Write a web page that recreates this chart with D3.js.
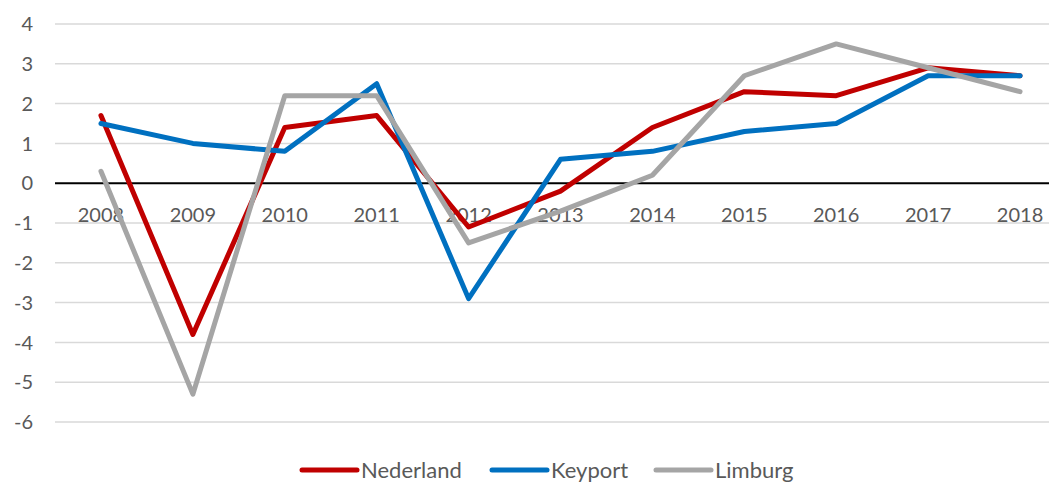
<!DOCTYPE html>
<html>
<head>
<meta charset="utf-8">
<script src="https://cdn.jsdelivr.net/npm/d3@7"></script>
<style>
  body { margin: 0; background: #fff; }
  text { font-family: Lato, "Open Sans", sans-serif; fill: #595959; }
</style>
</head>
<body>
<div id="chart"></div>
<script>
var years = ["2008", "2009", "2010", "2011", "2012", "2013", "2014", "2015", "2016", "2017", "2018"];
var nederland = [1.7, -3.8, 1.4, 1.7, -1.1, -0.2, 1.4, 2.3, 2.2, 2.9, 2.7];
var keyport = [1.5, 1.0, 0.8, 2.5, -2.9, 0.6, 0.8, 1.3, 1.5, 2.7, 2.7];
var limburg = [0.3, -5.3, 2.2, 2.2, -1.5, -0.7, 0.2, 2.7, 3.5, 2.9, 2.3];
var yTicks = [4, 3, 2, 1, 0, -1, -2, -3, -4, -5, -6];

var series = [
    {name: "Nederland", values: nederland, color: "#C00000"},
    {name: "Keyport", values: keyport, color: "#0070C0"},
    {name: "Limburg", values: limburg, color: "#A5A5A5"}
];

var w = 1049, h = 484;
var svg = d3.select("#chart").append("svg")
    .attr("width", w)
    .attr("height", h);

// plot runs off the right edge, like the original
var x = d3.scalePoint().domain(years).range([55, 1066]).padding(0.5);
var y = d3.scaleLinear().domain([-6, 4]).range([422, 24]);

// gridlines
svg.append("g").selectAll("line")
    .data(yTicks.filter(function(d) { return d !== 0; }))
    .join("line")
    .attr("x1", 55).attr("x2", w)
    .attr("y1", function(d) { return y(d); })
    .attr("y2", function(d) { return y(d); })
    .style("stroke", "#D9D9D9")
    .style("stroke-width", 1.5);

// y labels
svg.append("g").selectAll("text")
    .data(yTicks)
    .join("text")
    .attr("x", 33)
    .attr("y", function(d) { return y(d); })
    .attr("dy", "0.36em")
    .style("text-anchor", "end")
    .style("font-size", "20px")
    .text(function(d) { return d; });

// zero line
svg.append("line")
    .attr("x1", 55).attr("x2", w)
    .attr("y1", y(0)).attr("y2", y(0))
    .style("stroke", "#000")
    .style("stroke-width", 2);

// x labels
svg.append("g").selectAll("text")
    .data(years)
    .join("text")
    .attr("x", function(d) { return x(d); })
    .attr("y", 222)
    .style("text-anchor", "middle")
    .style("font-size", "20px")
    .text(function(d) { return d; });

var line = d3.line()
    .x(function(d, i) { return x(years[i]); })
    .y(function(d) { return y(d); });

svg.append("g").selectAll("path")
    .data(series)
    .join("path")
    .attr("d", function(s) { return line(s.values); })
    .style("fill", "none")
    .style("stroke", function(s) { return s.color; })
    .style("stroke-width", 5)
    .style("stroke-linejoin", "round")
    .style("stroke-linecap", "round");

// legend (nudged up a little so the descenders stay inside the picture)
var legendX = [302, 492, 656];
var legend = svg.append("g").selectAll("g")
    .data(series)
    .join("g")
    .attr("transform", function(s, i) { return "translate(" + legendX[i] + ",470)"; });
legend.append("line")
    .attr("x1", 0).attr("x2", 55)
    .style("stroke", function(s) { return s.color; })
    .style("stroke-width", 5)
    .style("stroke-linecap", "round");
legend.append("text")
    .attr("x", 59)
    .attr("dy", "0.36em")
    .style("font-size", "22px")
    .text(function(s) { return s.name; });
</script>
</body>
</html>
